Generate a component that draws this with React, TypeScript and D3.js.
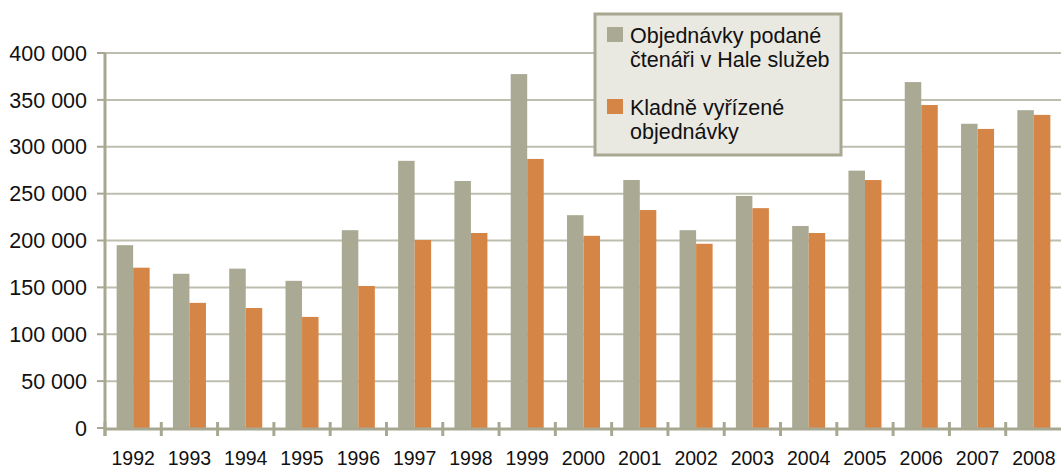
import React from 'react';
import * as d3 from 'd3';

const years = ["1992", "1993", "1994", "1995", "1996", "1997", "1998", "1999", "2000",
  "2001", "2002", "2003", "2004", "2005", "2006", "2007", "2008"];
const podane = [195000, 164500, 170000, 157000, 211000, 285000, 263500, 377500, 227000,
  264500, 211000, 247500, 215500, 274500, 369000, 324500, 339000];
const vyrizene = [171000, 133500, 128000, 118500, 151500, 200500, 208000, 287000, 205000,
  232500, 196500, 234500, 208000, 264500, 344500, 319000, 334000];
const yTicks = [0, 50000, 100000, 150000, 200000, 250000, 300000, 350000, 400000];
const legendItems = [
  { lines: ["Objednávky podané", "čtenáři v Hale služeb"], color: "#A9A994" },
  { lines: ["Kladně vyřízené", "objednávky"], color: "#D58646" },
];

const W = 1061, H = 469;
const left = 105, right = 1062, top = 53, bottom = 428;

export default function App() {
  const x = d3.scaleBand().domain(years).range([left, right]);
  const y = d3.scaleLinear().domain([0, 400000]).range([bottom, top]);
  const bw = x.bandwidth() / 3.41;
  const off = (x.bandwidth() - 2 * bw) / 2;
  const fmt = (v) => d3.format(",")(v).replace(/,/g, " ");
  const font = "'Liberation Sans', Arial, sans-serif";

  return (
    <svg width={W} height={H} style={{ position: 'absolute', left: 0, top: 0 }} fontFamily={font}>
      <rect width={W} height={H} fill="#fff" />
      {/* gridlines */}
      {yTicks.filter(d => d > 0).map(d => (
        <line key={d} x1={left} x2={W} y1={y(d)} y2={y(d)} stroke="#BEBEAF" strokeWidth={2} />
      ))}
      {/* bars */}
      {years.map((yr, i) => (
        <g key={yr}>
          <rect x={x(yr) + off} y={y(podane[i])} width={bw} height={bottom - y(podane[i])} fill="#A9A994" />
          <rect x={x(yr) + off + bw} y={y(vyrizene[i])} width={bw} height={bottom - y(vyrizene[i])} fill="#D58646" />
        </g>
      ))}
      {/* y axis */}
      <line x1={left} x2={left} y1={top} y2={bottom + 8} stroke="#A8A892" strokeWidth={3} />
      {yTicks.map(d => (
        <g key={d}>
          <line x1={left - 8} x2={left} y1={y(d)} y2={y(d)} stroke="#A8A892" strokeWidth={2} />
          <text x={87} y={y(d)} dy="0.36em" textAnchor="end" fontSize={21.5} fill="#111">{fmt(d)}</text>
        </g>
      ))}
      {/* x axis */}
      <line x1={left} x2={W} y1={bottom + 1} y2={bottom + 1} stroke="#A8A892" strokeWidth={3} />
      {years.map(yr => (
        <g key={yr}>
          <line x1={x(yr)} x2={x(yr)} y1={bottom - 6} y2={bottom + 8} stroke="#A8A892" strokeWidth={3} />
          <text x={x(yr) + x.bandwidth() / 2} y={465} textAnchor="middle" fontSize={19.5} fill="#111">{yr}</text>
        </g>
      ))}
      {/* legend */}
      <rect x={595} y={14} width={246} height={141} fill="#E9E8E1" stroke="#A8A892" strokeWidth={3} />
      {legendItems.map((it, i) => (
        <g key={i} transform={`translate(607, ${27 + i * 72})`}>
          <rect width={16} height={15} fill={it.color} />
          {it.lines.map((ln, j) => (
            <text key={j} x={23} y={16 + j * 24} fontSize={21.5} fill="#111">{ln}</text>
          ))}
        </g>
      ))}
    </svg>
  );
}
